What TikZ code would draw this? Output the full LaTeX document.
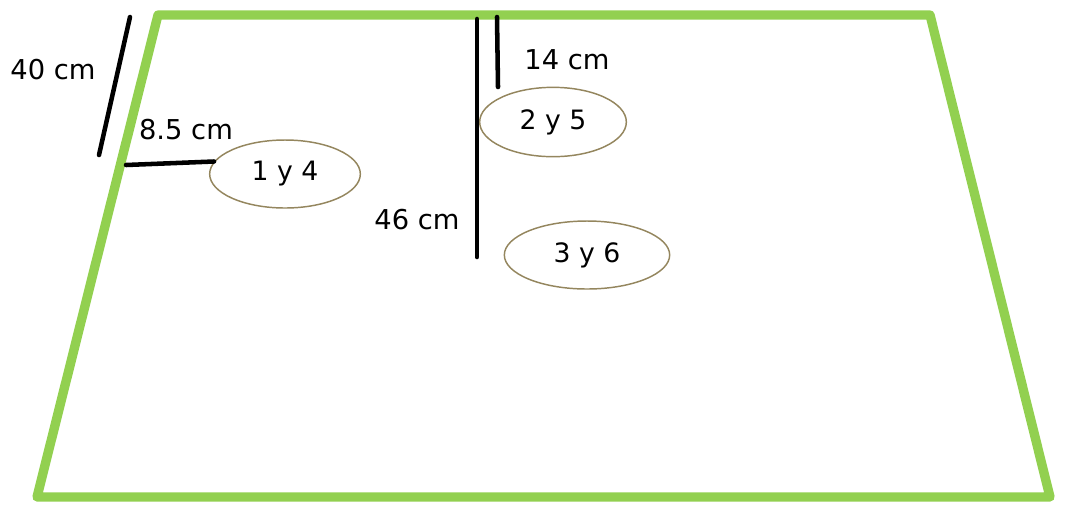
\documentclass[tikz,border=0pt]{standalone}
\usepackage{fontspec}
\setmainfont{DejaVu Sans}
\usetikzlibrary{shapes.geometric,positioning}
\definecolor{LawnGreen}{RGB}{146,208,80}
\definecolor{OliveLine}{RGB}{148,134,94}
\tikzset{
  field/.style={draw=LawnGreen,line width=7pt,line join=round,line cap=round},
  meas/.style={draw=black,line width=3.4pt,line cap=round},
  spot/.style={draw=OliveLine,ellipse,line width=1.1pt,inner sep=0pt,
               font=\fontsize{20}{23}\selectfont},
  lbl/.style={font=\fontsize{20.5}{23}\selectfont,inner sep=0pt},
}
\begin{document}
\begin{tikzpicture}[x=0.75pt,y=-0.75pt]
            \useasboundingbox (0,0) rectangle (1070,512);
            % field outline
            \coordinate (tl) at (158,15);
            \coordinate (tr) at (930,15);
            \coordinate (br) at (1050,497);
            \coordinate (bl) at (37,497);
            \draw[field] (tl) -- (tr) -- (br) -- (bl) -- cycle;

            % positions
            \node[spot, minimum width=113pt, minimum height=51pt] (p14) at (285,174) {1 y 4};
            \node[spot, minimum width=110pt, minimum height=52pt] (p25) at (553,122) {2 y 5};
            \node[spot, minimum width=124pt, minimum height=51pt] (p36) at (587,255) {3 y 6};

            % measures
            \coordinate (a1) at (130,17);
            \coordinate (a2) at (99,155);
            \draw[meas] (a1) -- (a2);
            \node[lbl] (l40) at (53,70) {40 cm};

            \coordinate (b1) at (126,165);
            \draw[meas] (b1) -- (p14.170);
            \node[lbl] (l85) at (186,130) {8.5 cm};

            \coordinate (c1) at (477,19);
            \coordinate (c2) at (477,257);
            \draw[meas] (c1) -- (c2);
            \node[lbl] (l46) at (417,220) {46 cm};

            \coordinate (d1) at (497,17);
            \coordinate (d2) at (498,87);
            \draw[meas] (d1) -- (d2);
            \node[lbl] (l14) at (567,60) {14 cm};
          \end{tikzpicture}
\end{document}
